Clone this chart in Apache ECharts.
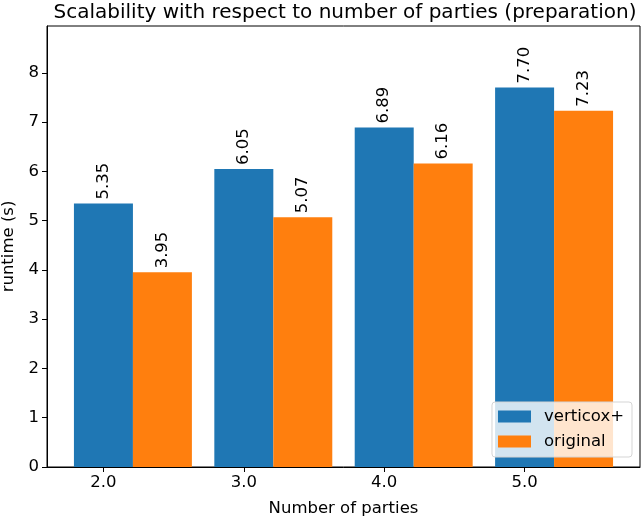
<!DOCTYPE html>
<html>
<head>
<meta charset="utf-8">
<script src="https://cdn.jsdelivr.net/npm/echarts@6/dist/echarts.min.js"></script>
<style>
  html, body { margin: 0; padding: 0; background: #fff; }
  #chart { width: 642px; height: 520px; }
</style>
</head>
<body>
<div id="chart"></div>
<script>
// number of parties (x ticks) and runtimes
var parties = [2, 3, 4, 5];
var partyLabels = ['2.0', '3.0', '4.0', '5.0'];
var verticox = [5.35, 6.05, 6.89, 7.70];
var original = [3.95, 5.07, 6.16, 7.23];
var yTicks = [0, 1, 2, 3, 4, 5, 6, 7, 8];

var barW = 0.42; // bar width in x units, orange sits one bar to the right

function pairs(xs, ys, shift) {
  var out = [];
  for (var i = 0; i < xs.length; i++) {
    out.push([xs[i] + shift, ys[i]]);
  }
  return out;
}

var font = 'DejaVu Sans';
var fs = 16.5;
var barLabel = {
  show: true,
  position: 'top',
  rotate: 90,
  align: 'left',
  verticalAlign: 'middle',
  distance: 4,
  fontFamily: font,
  fontSize: fs,
  color: '#000',
  formatter: function (p) { return p.value[1].toFixed(2); }
};

var myChart = echarts.init(document.getElementById('chart'));
var option = {
  animation: false,
  backgroundColor: '#fff',
  title: {
    text: 'Scalability with respect to number of parties (preparation)',
    left: 340,
    textAlign: 'center',
    top: -2,
    textStyle: { fontFamily: font, fontSize: 20, fontWeight: 'normal', color: '#000' }
  },
  grid: {
    left: 47, right: 2, top: 26, bottom: 53,
    outerBoundsMode: 'none',
    containLabel: false,
    show: true, borderColor: '#000', borderWidth: 1, backgroundColor: 'transparent'
  },
  legend: {
    orient: 'vertical',
    right: 10,
    bottom: 63,
    itemWidth: 33,
    itemHeight: 12,
    itemGap: 8,
    padding: [6, 8, 7, 6],
    backgroundColor: 'rgba(255,255,255,0.8)',
    borderColor: '#d5d5d5',
    borderWidth: 1,
    borderRadius: 3,
    icon: 'rect',
    textStyle: { fontFamily: font, fontSize: fs, color: '#000', lineHeight: 17, padding: [0, 0, 0, 8] },
    data: ['verticox+', 'original']
  },
  xAxis: {
    type: 'value',
    min: parties[0] - barW / 2 - 0.192,
    max: parties[parties.length - 1] + barW * 1.5 + 0.192,
    name: 'Number of parties',
    nameLocation: 'middle',
    nameGap: 33,
    nameTextStyle: { fontFamily: font, fontSize: fs, color: '#000' },
    axisLine: { show: true, lineStyle: { color: '#000', width: 1 } },
    axisTick: { show: true, length: 5, customValues: parties, lineStyle: { color: '#000' } },
    axisLabel: {
      customValues: parties,
      margin: 7,
      fontFamily: font, fontSize: fs, color: '#000',
      formatter: function (v) { return partyLabels[parties.indexOf(v)]; }
    },
    splitLine: { show: false }
  },
  yAxis: {
    type: 'value',
    min: 0,
    max: 8.95,
    interval: 1,
    name: 'runtime (s)',
    nameLocation: 'middle',
    nameGap: 29,
    nameTextStyle: { fontFamily: font, fontSize: fs, color: '#000' },
    axisLine: { show: true, lineStyle: { color: '#000', width: 1 } },
    axisTick: { show: true, length: 5, customValues: yTicks, lineStyle: { color: '#000' } },
    axisLabel: { customValues: yTicks, margin: 8, fontFamily: font, fontSize: fs, color: '#000' },
    splitLine: { show: false }
  },
  series: [
    {
      name: 'verticox+',
      type: 'bar',
      barWidth: 59,
      barGap: '-100%',
      itemStyle: { color: '#1f77b4' },
      label: barLabel,
      data: pairs(parties, verticox, 0)
    },
    {
      name: 'original',
      type: 'bar',
      barWidth: 59,
      barGap: '-100%',
      itemStyle: { color: '#ff7f0e' },
      label: barLabel,
      data: pairs(parties, original, barW)
    }
  ]
};
myChart.setOption(option);
</script>
</body>
</html>
